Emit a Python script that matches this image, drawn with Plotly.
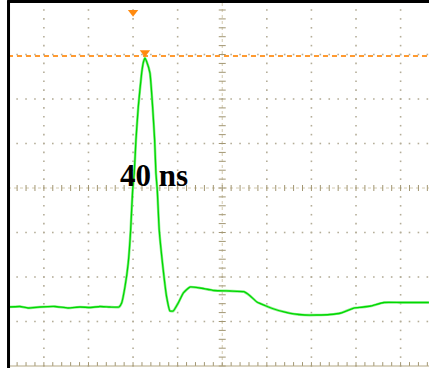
import plotly.graph_objects as go

# Pulse trace, in screen divisions (time, amplitude)
trace_t = [-4.805, -4.536, -4.356, -4.087, -3.751, -3.460, -3.191, -2.966, -2.742, -2.518,
           -2.316, -2.256, -2.182, -2.108, -2.054, -2.009, -1.973, -1.935, -1.883, -1.807,
           -1.767, -1.733, -1.700, -1.621, -1.561, -1.516, -1.487, -1.457, -1.413, -1.323,
           -1.247, -1.173, -1.099, -0.987, -0.874, -0.724, -0.500, -0.186, 0.173, 0.487,
           0.621, 0.778, 0.957, 1.159, 1.406, 1.608, 1.854, 2.123, 2.415, 2.661,
           2.953, 3.132, 3.334, 3.626, 3.985, 4.321, 4.635]
trace_v = [-2.674, -2.663, -2.697, -2.674, -2.663, -2.697, -2.674, -2.685, -2.663, -2.674,
           -2.674, -2.584, -2.225, -1.685, -0.944, -0.045, 0.337, 1.079, 1.820, 2.584,
           2.831, 2.921, 2.854, 2.584, 1.820, 1.079, 0.337, -0.045, -0.944, -1.843,
           -2.449, -2.764, -2.764, -2.584, -2.360, -2.225, -2.247, -2.303, -2.315, -2.330,
           -2.420, -2.562, -2.640, -2.719, -2.787, -2.831, -2.854, -2.854, -2.843, -2.809,
           -2.697, -2.680, -2.652, -2.573, -2.573, -2.573, -2.573]

# Cursors and markers
cursor_level = 2.966
peak_marker = (-1.733, 3.045)
trigger_marker = (-2.0, 3.95)
label_text = "40 ns"
label_pos = (-1.53, 0.27)

# Graticule: 10 x 8 divisions, 5 minor steps each
x_divs = list(range(-4, 5))
y_divs = list(range(-3, 4))
minor = 0.2

X_RANGE = [-4.984, 4.637]
Y_RANGE = [-4.045, 4.225]
X_LEFT, X_RIGHT = -4.805, 4.64

GRID = "#b4ad98"
AXIS = "#a29672"

fig = go.Figure()

# dotted grid lines
gx, gy = [], []
for xd in x_divs:
    if xd == 0:
        continue
    for i in range(-20, 21):
        gx.append(xd)
        gy.append(i * minor)
for yd in y_divs:
    if yd == 0:
        continue
    i = -24
    while i * minor <= X_RIGHT:
        gx.append(i * minor)
        gy.append(yd)
        i += 1
fig.add_trace(go.Scatter(x=gx, y=gy, mode="markers", hoverinfo="skip",
                         marker=dict(symbol="square", size=1.6, color=GRID, line=dict(width=0))))

# centre axes (light line + minor ticks)
fig.add_trace(go.Scatter(x=[X_LEFT, X_RIGHT], y=[0, 0], mode="lines", hoverinfo="skip",
                         line=dict(color="#d2c9ae", width=1, dash="dot")))
fig.add_trace(go.Scatter(x=[0, 0], y=[-4, 4.2], mode="lines", hoverinfo="skip",
                         line=dict(color="#d2c9ae", width=1, dash="dot")))

tick_h = 3.0 / 44.5
tick_w = 3.5 / 44.6
tx, ty = [], []
i = -24
while i * minor <= X_RIGHT:
    tx += [i * minor, i * minor, None]
    ty += [-tick_h, tick_h, None]
    # bottom border ticks, pointing up
    tx += [i * minor, i * minor, None]
    ty += [-4, -4 + 1.3 * tick_h, None]
    i += 1
for j in range(-20, 21):
    tx += [-tick_w, tick_w, None]
    ty += [j * minor, j * minor, None]
fig.add_trace(go.Scatter(x=tx, y=ty, mode="lines", hoverinfo="skip",
                         line=dict(color=AXIS, width=1)))

# bottom border
fig.add_trace(go.Scatter(x=[X_LEFT, X_RIGHT], y=[-4, -4], mode="lines", hoverinfo="skip",
                         line=dict(color="#b4a784", width=1.2)))

# level cursor
fig.add_trace(go.Scatter(x=[X_LEFT, X_RIGHT], y=[cursor_level, cursor_level], mode="lines",
                         hoverinfo="skip", line=dict(color="#ff9a30", width=2, dash="5px,4px")))

# waveform: soft halo + core
fig.add_trace(go.Scatter(x=trace_t, y=trace_v, mode="lines", hoverinfo="skip",
                         line=dict(color="#8cee8c", width=2.6, shape="spline", smoothing=0.4)))
fig.add_trace(go.Scatter(x=trace_t, y=trace_v, mode="lines", hoverinfo="skip",
                         line=dict(color="#00d800", width=1.3, shape="spline", smoothing=0.4)))

# markers
fig.add_trace(go.Scatter(x=[peak_marker[0], trigger_marker[0]], y=[peak_marker[1], trigger_marker[1]],
                         mode="markers", hoverinfo="skip",
                         marker=dict(symbol="triangle-down", size=9, color="#ff8a10", line=dict(width=0))))

# black frame (left and top)
fig.add_shape(type="line", x0=-4.793, x1=-4.793, y0=Y_RANGE[0], y1=4.2,
              line=dict(color="black", width=3))
fig.add_shape(type="line", x0=-4.825, x1=X_RANGE[1], y0=4.19, y1=4.19,
              line=dict(color="black", width=3))

fig.add_annotation(x=label_pos[0], y=label_pos[1], text=label_text, showarrow=False,
                   xanchor="center", yanchor="middle",
                   font=dict(family="Liberation Serif", size=31, color="black", weight="bold"))

fig.update_layout(
    width=429, height=368,
    margin=dict(l=0, r=0, t=0, b=0),
    paper_bgcolor="white", plot_bgcolor="white",
    showlegend=False,
    xaxis=dict(range=X_RANGE, visible=False, fixedrange=True),
    yaxis=dict(range=Y_RANGE, visible=False, fixedrange=True),
)

fig.write_html("out.html", config={"displayModeBar": False})
